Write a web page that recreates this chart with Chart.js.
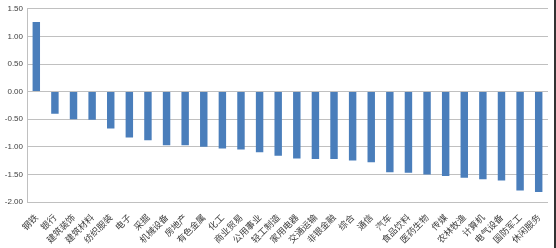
<!DOCTYPE html>
<html><head><meta charset="utf-8">
<script src="https://cdn.jsdelivr.net/npm/chart.js@4.4.1/dist/chart.umd.min.js"></script>
<style>
html,body{margin:0;padding:0;background:#fff;}
#wrap{position:relative;width:556px;height:248px;}
#wrap:after{content:"";position:absolute;right:0;top:0;width:2px;height:248px;background:#333;}
</style></head>
<body><div id="wrap"><canvas id="c" width="556" height="248"></canvas></div>
<script>
const categories = ["钢铁","银行","建筑装饰","建筑材料","纺织服装","电子","采掘","机械设备","房地产","有色金属","化工","商业贸易","公用事业","轻工制造","家用电器","交通运输","非银金融","综合","通信","汽车","食品饮料","医药生物","传媒","农林牧渔","计算机","电气设备","国防军工","休闲服务"];
const values = [1.26,-0.40,-0.50,-0.51,-0.67,-0.83,-0.88,-0.97,-0.97,-1.00,-1.03,-1.05,-1.10,-1.16,-1.21,-1.22,-1.22,-1.25,-1.28,-1.46,-1.47,-1.50,-1.53,-1.56,-1.59,-1.61,-1.79,-1.82];
const yMin = -2.0, yMax = 1.5, yStep = 0.5;

new Chart(document.getElementById('c'), {
  type: 'bar',
  data: { labels: categories, datasets: [{ data: values, backgroundColor: '#4a7ebb', barPercentage: 0.4, categoryPercentage: 1.0 }] },
  options: {
    responsive: false, animation: false,
    layout: { padding: { top: 4, right: 8, left: 0, bottom: 0 } },
    plugins: { legend: { display: false }, tooltip: { enabled: false } },
    scales: {
      x: {
        grid: { display: false }, border: { display: false },
        ticks: { minRotation: 45, maxRotation: 45, autoSkip: false, padding: 2,
          color: '#404040', font: { family: '"Noto Sans CJK SC"', size: 9 } },
        afterFit: s => { s.height = 46; }
      },
      y: {
        min: yMin, max: yMax,
        grid: { color: '#c0c0c0', lineWidth: 1, drawTicks: false },
        border: { display: true, color: '#c0c0c0' },
        ticks: { stepSize: yStep, padding: 4, color: '#404040',
          font: { family: '"Liberation Sans", Arial', size: 8 },
          callback: v => Number(v).toFixed(2) },
        afterFit: s => { s.width = 27; }
      }
    }
  }
});
</script></body></html>
